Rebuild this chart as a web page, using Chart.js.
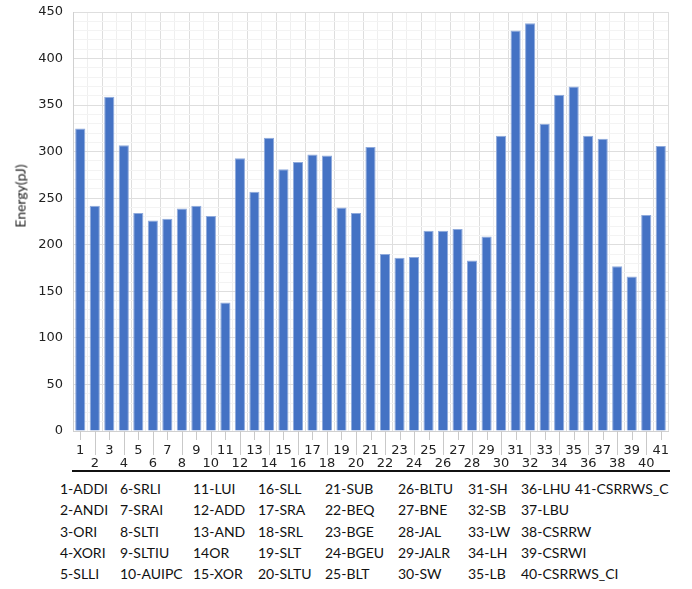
<!DOCTYPE html>
<html>
<head>
<meta charset="utf-8">
<script src="https://cdn.jsdelivr.net/npm/chart.js@4"></script>
<style>
  body { margin: 0; background: #fff; }
  #wrap { position: relative; width: 692px; height: 589px; }
  #box { position: absolute; left: 0; top: 0; width: 692px; height: 470px; }
  #ytitle { position: absolute; left: 20px; top: 196px; transform: translate(-50%, -50%) rotate(-90deg);
    font: 14px Lato, sans-serif; color: #222; white-space: nowrap; }
  #rule { position: absolute; left: 72px; top: 470px; width: 598px; height: 2px; background: #111; }
  .item { position: absolute; font: 14px Lato, sans-serif; color: #111; white-space: nowrap; line-height: 21px; }
</style>
</head>
<body>
<div id="wrap">
  <div id="box"><canvas id="chart"></canvas></div>
  <div id="ytitle">Energy(pJ)</div>
  <div id="rule"></div>
  <div id="legend"></div>
</div>
<script>
const instrNames = ["1-ADDI", "2-ANDI", "3-ORI", "4-XORI", "5-SLLI",
  "6-SRLI", "7-SRAI", "8-SLTI", "9-SLTIU", "10-AUIPC",
  "11-LUI", "12-ADD", "13-AND", "14OR", "15-XOR",
  "16-SLL", "17-SRA", "18-SRL", "19-SLT", "20-SLTU",
  "21-SUB", "22-BEQ", "23-BGE", "24-BGEU", "25-BLT",
  "26-BLTU", "27-BNE", "28-JAL", "29-JALR", "30-SW",
  "31-SH", "32-SB", "33-LW", "34-LH", "35-LB",
  "36-LHU", "37-LBU", "38-CSRRW", "39-CSRWI", "40-CSRRWS_CI",
  "41-CSRRWS_C"];

const categories = ["1", "2", "3", "4", "5", "6", "7", "8", "9", "10",
  "11", "12", "13", "14", "15", "16", "17", "18", "19", "20",
  "21", "22", "23", "24", "25", "26", "27", "28", "29", "30",
  "31", "32", "33", "34", "35", "36", "37", "38", "39", "40", "41"];

const energy = [325, 242, 359, 307, 234, 226, 228, 239, 242, 231,
  138, 293, 257, 315, 281, 289, 297, 296, 240, 234,
  305, 190, 186, 187, 215, 215, 217, 183, 209, 317,
  430, 438, 330, 361, 370, 317, 314, 177, 166, 232, 306];

const yMin = 0, yMax = 450, yMajor = 50, yMinor = 10;

// legend table under the chart, five rows per column
const colX = [60, 120, 193, 258, 325, 398, 468, 521, 575];
const legend = document.getElementById('legend');
instrNames.forEach((name, i) => {
  const d = document.createElement('div');
  d.className = 'item';
  d.textContent = name;
  d.style.left = colX[Math.floor(i / 5)] + 'px';
  d.style.top = (478 + (i % 5) * 21.3) + 'px';
  legend.appendChild(d);
});

// tick marks hanging under the x axis, long ones under the lower labels
const tickMarks = {
  id: 'tickMarks',
  afterDraw(chart) {
    const x = chart.scales.x, ctx = chart.ctx, b = chart.chartArea.bottom;
    ctx.save();
    ctx.strokeStyle = '#c9c9c9';
    ctx.lineWidth = 1;
    categories.forEach((c, i) => {
      const px = Math.round(x.getPixelForValue(i)) + 0.5;
      ctx.beginPath();
      ctx.moveTo(px, b);
      ctx.lineTo(px, b + (i % 2 ? 24 : 9));
      ctx.stroke();
    });
    ctx.restore();
  }
};

const ctx = document.getElementById('chart');
new Chart(ctx, {
  type: 'bar',
  data: {
    labels: categories.map((c, i) => i % 2 ? ['', c] : c),
    datasets: [{
      data: energy,
      backgroundColor: '#4472c4',
      borderColor: '#8faadc',
      borderWidth: 1,
      barPercentage: 0.7,
      categoryPercentage: 1
    }]
  },
  options: {
    responsive: true,
    maintainAspectRatio: false,
    animation: false,
    layout: { padding: { top: 12, right: 24, left: 0, bottom: 0 } },
    plugins: { legend: { display: false }, tooltip: { enabled: false } },
    scales: {
      x: {
        afterFit: s => { s.height = 39; },
        grid: {
          offset: true,
          drawTicks: false,
          color: c => c.index % 2 ? '#efefef' : '#dedede'
        },
        border: { color: '#d0d0d0' },
        ticks: {
          autoSkip: false,
          maxRotation: 0,
          padding: 13,
          color: '#222',
          font: { family: 'DejaVu Sans', size: 13, lineHeight: 1 }
        }
      },
      y: {
        min: yMin,
        max: yMax,
        afterFit: s => { s.width = 73; s.paddingTop = 0; s.paddingBottom = 0; },
        grid: {
          drawTicks: false,
          color: c => c.tick.value % yMajor === 0 ? '#dedede' : '#f3f3f3'
        },
        border: { color: '#d0d0d0' },
        ticks: {
          stepSize: yMinor,
          autoSkip: false,
          padding: 10,
          color: '#222',
          font: { family: 'DejaVu Sans', size: 13 },
          callback: v => v % yMajor === 0 ? v : ''
        }
      }
    }
  },
  plugins: [tickMarks]
});
</script>
</body>
</html>
